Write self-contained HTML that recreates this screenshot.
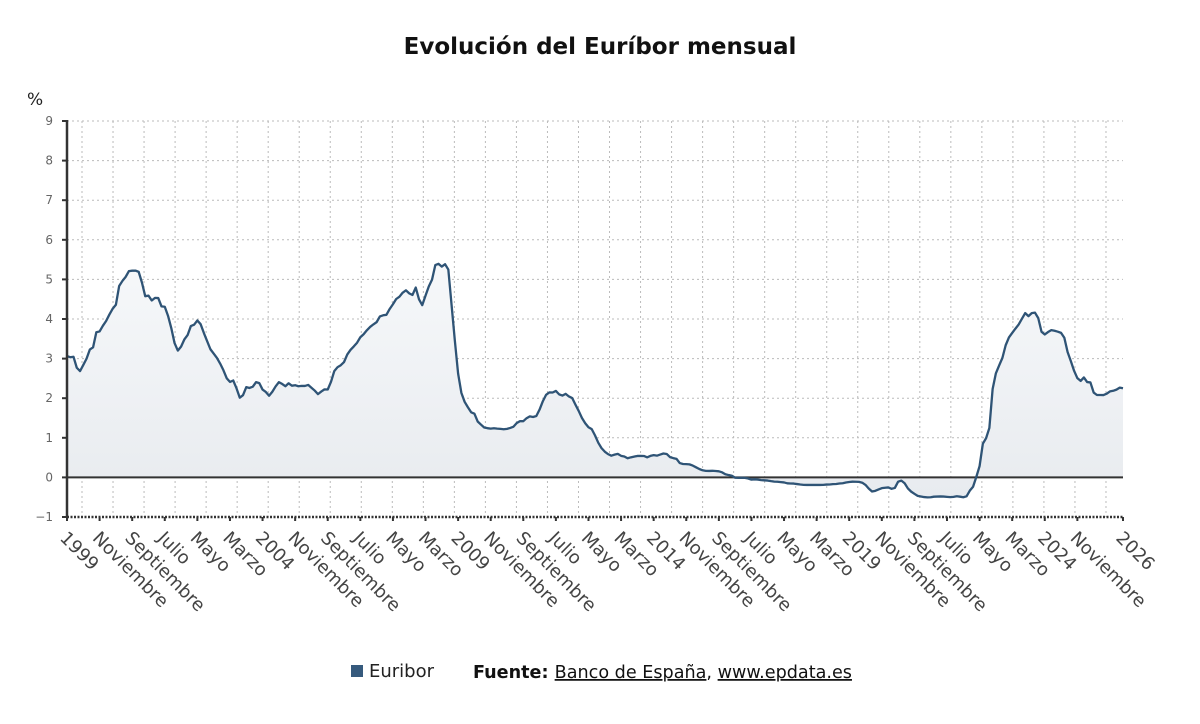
<!DOCTYPE html>
<html><head><meta charset="utf-8"><style>
body{margin:0;background:#fff;width:1200px;height:720px;overflow:hidden;font-family:"DejaVu Sans","Liberation Sans",sans-serif}
svg text{font-family:"DejaVu Sans","Liberation Sans",sans-serif}
</style></head><body>
<svg width="1200" height="720">
<defs><linearGradient id="fillg" x1="0" y1="0" x2="0" y2="1"><stop offset="0" stop-color="#f6f8fa"/><stop offset="1" stop-color="#e8ebef"/></linearGradient></defs>
<text x="600" y="54" text-anchor="middle" font-size="23" font-weight="bold" fill="#111">Evolución del Euríbor mensual</text>
<text x="27" y="105" font-size="17" fill="#222">%</text>
<g id="grid"></g><g id="area"></g><g id="axes"></g><g id="xlabels"></g>
<g>
<rect x="351" y="665" width="12" height="12" fill="#365a7d"/>
<text x="369" y="677" font-size="18" fill="#222">Euribor</text>
<text x="473" y="678" font-size="17.6" fill="#111"><tspan font-weight="bold">Fuente: </tspan><tspan text-decoration="underline">Banco de España</tspan>, <tspan text-decoration="underline">www.epdata.es</tspan></text>
</g>
</svg>
<script>
const startYear = 1999;
const values = [
3.062,3.035,3.046,2.769,2.684,2.840,2.999,3.227,3.284,3.665,3.686,3.828,
3.949,4.112,4.258,4.359,4.833,4.961,5.064,5.209,5.220,5.222,5.190,4.919,
4.576,4.590,4.468,4.533,4.529,4.318,4.310,4.080,3.769,3.392,3.202,3.302,
3.483,3.594,3.822,3.856,3.963,3.869,3.646,3.440,3.236,3.126,3.017,2.872,
2.705,2.504,2.411,2.447,2.252,2.014,2.076,2.279,2.258,2.291,2.405,2.381,
2.218,2.158,2.063,2.163,2.297,2.404,2.361,2.302,2.377,2.316,2.328,2.301,
2.312,2.310,2.335,2.265,2.193,2.103,2.168,2.223,2.220,2.414,2.684,2.783,
2.833,2.914,3.105,3.221,3.308,3.401,3.539,3.615,3.715,3.799,3.864,3.921,
4.064,4.094,4.106,4.253,4.373,4.505,4.564,4.666,4.725,4.647,4.607,4.793,
4.498,4.349,4.590,4.820,4.994,5.361,5.393,5.323,5.384,5.248,4.350,3.452,
2.622,2.135,1.909,1.771,1.644,1.610,1.412,1.334,1.261,1.243,1.231,1.242,
1.232,1.225,1.215,1.225,1.249,1.281,1.373,1.421,1.420,1.495,1.541,1.526,
1.550,1.714,1.924,2.086,2.147,2.144,2.183,2.097,2.067,2.110,2.044,2.004,
1.837,1.678,1.499,1.368,1.266,1.219,1.061,0.877,0.740,0.650,0.588,0.549,
0.575,0.594,0.545,0.528,0.484,0.507,0.525,0.542,0.543,0.541,0.506,0.543,
0.562,0.549,0.577,0.604,0.592,0.513,0.488,0.469,0.362,0.338,0.335,0.329,
0.298,0.255,0.212,0.180,0.165,0.163,0.167,0.161,0.154,0.128,0.079,0.059,
0.042,-0.008,-0.012,-0.010,-0.013,-0.028,-0.056,-0.048,-0.057,-0.069,-0.074,-0.080,
-0.095,-0.106,-0.110,-0.119,-0.127,-0.149,-0.154,-0.156,-0.168,-0.180,-0.189,-0.190,
-0.189,-0.191,-0.191,-0.190,-0.188,-0.181,-0.180,-0.169,-0.166,-0.154,-0.147,-0.129,
-0.116,-0.108,-0.109,-0.112,-0.134,-0.190,-0.283,-0.356,-0.339,-0.304,-0.272,-0.261,
-0.253,-0.288,-0.266,-0.108,-0.081,-0.147,-0.279,-0.359,-0.415,-0.466,-0.481,-0.497,
-0.505,-0.501,-0.487,-0.484,-0.481,-0.484,-0.491,-0.498,-0.492,-0.477,-0.487,-0.502,
-0.477,-0.335,-0.237,0.013,0.287,0.852,0.992,1.249,2.233,2.629,2.828,3.018,
3.337,3.534,3.647,3.757,3.862,4.007,4.149,4.073,4.149,4.160,4.022,3.679,
3.609,3.671,3.718,3.703,3.680,3.650,3.526,3.166,2.936,2.691,2.506,2.436,
2.525,2.407,2.398,2.143,2.081,2.081,2.079,2.114,2.172,2.187,2.217,2.267,2.25
];
const yTicks = [-1,0,1,2,3,4,5,6,7,8,9];
const monthNames = ["Enero","Febrero","Marzo","Abril","Mayo","Junio","Julio","Agosto","Septiembre","Octubre","Noviembre","Diciembre"];
const totalMonths = 324, tickStep = 10;
const NS="http://www.w3.org/2000/svg";
const X0=67,X1=1123,Y0=517,Y1=121;
const xs=m=>X0+(X1-X0)*m/totalMonths;
const ys=v=>Y0-(v+1)*(Y0-Y1)/10;
function mk(tag,attrs,parent){const e=document.createElementNS(NS,tag);for(const k in attrs)e.setAttribute(k,attrs[k]);parent.appendChild(e);return e;}
const grid=document.getElementById('grid'),area=document.getElementById('area'),axes=document.getElementById('axes'),xl=document.getElementById('xlabels');
yTicks.forEach(t=>{
  if(t!==-1&&t!==0){const l=mk('line',{x1:X0,x2:X1,y1:ys(t),y2:ys(t),stroke:'#bbb','stroke-dasharray':'2,3'},grid);
  
  }
  mk('line',{x1:X0-5,x2:X0,y1:ys(t),y2:ys(t),stroke:'#333','stroke-width':2},axes);
  const tx=mk('text',{x:53,y:ys(t)+4,'text-anchor':'end','font-size':12,fill:'#666'},axes);
  tx.textContent=t<0?'\u2212'+Math.abs(t):String(t);
  
  
});
for(let gx=82;gx<X1;gx+=31.03){const l=mk('line',{x1:gx,x2:gx,y1:Y1,y2:Y0,stroke:'#bbb','stroke-dasharray':'2,3'},grid);
  
  }
let pts=values.map((v,i)=>xs(i).toFixed(2)+','+ys(v).toFixed(2));
const ar=mk('path',{d:'M'+xs(0)+','+ys(0)+' L'+pts.join(' L')+' L'+xs(values.length-1)+','+ys(0)+' Z',fill:'url(#fillg)'},area);


const z=mk('line',{x1:X0,x2:X1,y1:ys(0),y2:ys(0),stroke:'#333','stroke-width':2},area);


const ln=mk('polyline',{points:pts.join(' '),fill:'none',stroke:'#2f5476','stroke-width':2.3,'stroke-linejoin':'round'},area);


const ya=mk('line',{x1:X0,x2:X0,y1:Y1-1,y2:Y0,stroke:'#333','stroke-width':2.5},axes);


const xa=mk('line',{x1:X0,x2:X1,y1:Y0,y2:Y0,stroke:'#333','stroke-width':2.5,'stroke-dasharray':'2,1.5'},axes);


function addLabel(m,txt){
  const x=xs(m);
  mk('line',{x1:x,x2:x,y1:Y0,y2:Y0+4,stroke:'#333','stroke-width':2},axes);
  const t=mk('text',{x:0,y:0,'font-size':18,fill:'#444',transform:`translate(${x-8},${Y0+22}) rotate(45)`},xl);
  t.textContent=txt;
  
  
}
for(let m=0;m+tickStep<=totalMonths;m+=tickStep){
  const mo=m%12,yr=startYear+Math.floor(m/12);
  addLabel(m,mo===0?String(yr):monthNames[mo]);
}
addLabel(totalMonths,String(startYear+totalMonths/12));
</script>
</body></html>
